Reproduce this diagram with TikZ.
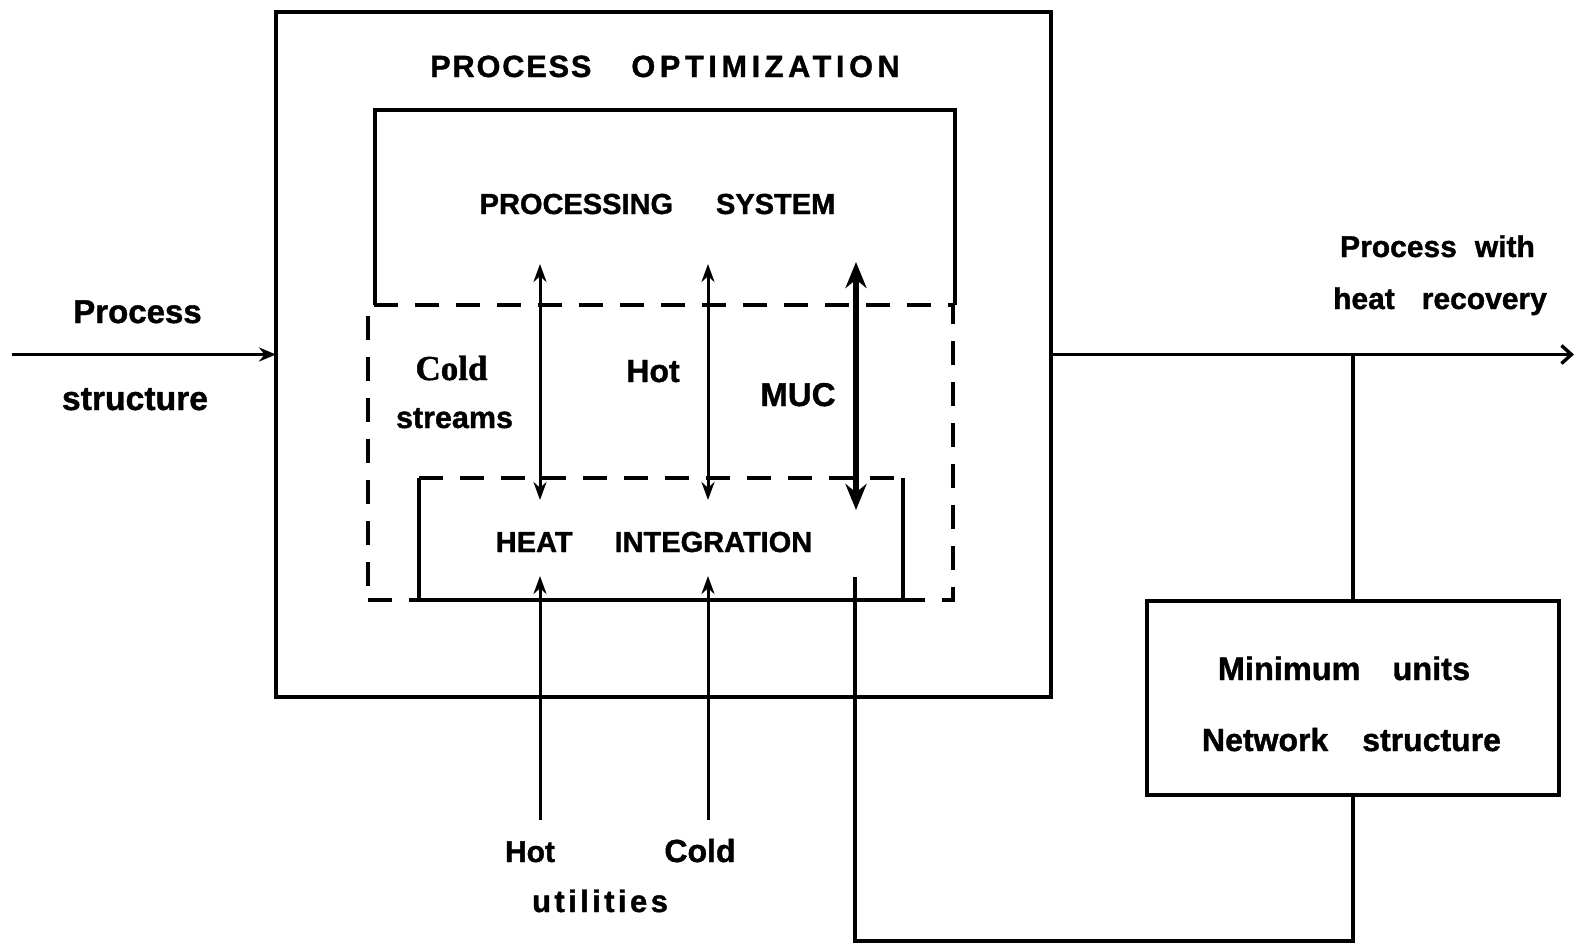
\documentclass[tikz,border=0pt]{standalone}
\usepackage{fontspec}
\setmainfont{Liberation Sans}[BoldFeatures={FakeBold=1.2}]
\newfontfamily\serifbold{Liberation Serif}[BoldFeatures={FakeBold=1.2}]
\usetikzlibrary{arrows.meta}
\newcommand{\fsz}[1]{\fontsize{#1}{#1}\selectfont}
\begin{document}
\begin{tikzpicture}[x=1pt,y=-1pt,
  frame/.style={line width=4pt, line join=miter},
  dashline/.style={line width=3.4pt, dash pattern=on 24pt off 17pt},
  lbl/.style={inner sep=0pt, anchor=base},
  thinarrow/.style={line width=3pt},
  dbl/.style={thinarrow, {Stealth[length=18pt,width=13pt]}-{Stealth[length=18pt,width=13pt]}},
  uparrow/.style={thinarrow, -{Stealth[length=18pt,width=13pt]}},
  mucarrow/.style={line width=6.5pt, {Stealth[length=26pt,width=21pt]}-{Stealth[length=26pt,width=21pt]}},
  wire/.style={line width=3.4pt},
  inarrow/.style={wire, -{Stealth[length=17pt,width=14pt]}},
  outarrow/.style={wire, -{Straight Barb[length=10pt,width=18pt,line width=3.4pt]}},
  region/.style={inner sep=0pt, outer sep=0pt}
]
\useasboundingbox (0,0) rectangle (1576,946);

% boxes
\node[region, draw, frame, minimum width=775pt, minimum height=685pt] (opt) at (663.5,354.5) {};
\node[region, minimum width=580pt, minimum height=195pt] (ps) at (665,207.5) {};
\node[region, draw, dashline, minimum width=585pt, minimum height=295pt] (hir) at (660.5,452.5) {};
\node[region, minimum width=484pt, minimum height=122pt] (hi) at (661,539) {};
\node[region, draw, frame, minimum width=412pt, minimum height=194pt] (mu) at (1353,698) {};

\draw[frame] (ps.south west) -- (ps.north west) -- (ps.north east) -- (ps.south east);
\draw[frame] (hi.north west) -- (hi.south west) -- (hi.south east) -- (hi.north east);
\draw[dashline] (hi.north west) -- (hi.north east);

% coordinates for free ends
\coordinate (in) at (12,354.5);
\coordinate (out) at (1574,354.5);
\coordinate (a1t) at (540,264);
\coordinate (a1b) at (540,500);
\coordinate (a2t) at (708,264);
\coordinate (a2b) at (708,500);
\coordinate (a3t) at (856,262);
\coordinate (a3b) at (856,510);
\coordinate (u1s) at (540,820);
\coordinate (u1e) at (540,576);
\coordinate (u2s) at (708,820);
\coordinate (u2e) at (708,576);
\coordinate (fbtop) at (855,577);
\coordinate (fbcorner) at (855,941);

% connectors
\draw[inarrow] (in) -- (opt.west);
\draw[outarrow] (opt.east) -- (out);
\draw[wire] (mu.north) -- (mu.north |- opt.east);
\draw[dbl] (a1t) -- (a1b);
\draw[dbl] (a2t) -- (a2b);
\draw[mucarrow] (a3t) -- (a3b);
\draw[uparrow] (u1s) -- (u1e);
\draw[uparrow] (u2s) -- (u2e);
\draw[wire] (fbtop) -- (fbcorner) -| (mu.south);

% labels
\node[lbl, font=\bfseries\fsz{30.7}] (ttl) at (665,77) {\addfontfeatures{LetterSpace=6}PROCESS\hspace{40pt}\addfontfeatures{LetterSpace=15}OPTIMIZATION};
\node[lbl, font=\bfseries\fsz{29}] (pst) at (657.5,214) {PROCESSING\hspace{43pt}SYSTEM};
\node[lbl, font=\serifbold\bfseries\fsz{35}] (cold1) at (451.5,380) {Cold};
\node[lbl, font=\bfseries\fsz{30.5}] (strm) at (454.5,428) {streams};
\node[lbl, font=\bfseries\fsz{32}] (hot1) at (653,382) {Hot};
\node[lbl, font=\bfseries\fsz{33}] (mucl) at (798,406) {MUC};
\node[lbl, font=\bfseries\fsz{29}] (hit) at (654,552) {HEAT\hspace{42pt}INTEGRATION};
\node[lbl, font=\bfseries\fsz{30}] (hot2) at (530,862) {Hot};
\node[lbl, font=\bfseries\fsz{32}] (cold2) at (700,862) {Cold};
\node[lbl, font=\bfseries\fsz{31}] (util) at (600,912) {\addfontfeatures{LetterSpace=11}utilities};
\node[lbl, font=\bfseries\fsz{33}] (proc) at (137.5,323) {Process};
\node[lbl, font=\bfseries\fsz{33.7}] (struc) at (135,410) {structure};
\node[lbl, font=\bfseries\fsz{30}] (pw) at (1437.5,257) {Process\hspace{18pt}with};
\node[lbl, font=\bfseries\fsz{30}] (hr) at (1440,309) {heat\hspace{27pt}recovery};
\node[lbl, font=\bfseries\fsz{32.5}] (mnu) at (1344,680) {Minimum\hspace{32pt}units};
\node[lbl, font=\bfseries\fsz{32}] (nws) at (1351.5,751) {Network\hspace{34pt}structure};
\end{tikzpicture}
\end{document}
